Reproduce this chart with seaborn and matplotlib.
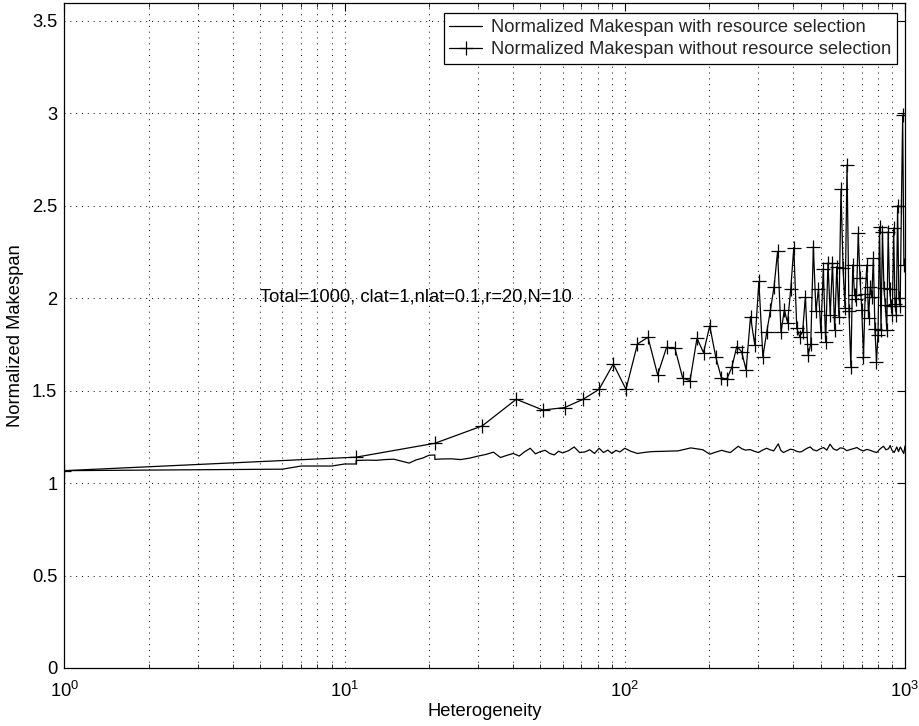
import matplotlib
matplotlib.use("Agg")
import matplotlib.pyplot as plt
import seaborn as sns
import pandas as pd

# ---- data ----
x_without = list(range(1, 1000, 10))
y_without = [1.067, 1.14, 1.215, 1.309, 1.453, 1.395, 1.408, 1.453, 1.507, 1.644,
             1.507, 1.752, 1.788, 1.585, 1.734, 1.729, 1.567, 1.554, 1.783, 1.705,
             1.85, 1.684, 1.57, 1.56, 1.626, 1.738, 1.711, 1.612, 1.90, 1.747,
             2.09, 1.684, 1.815, 1.936, 2.062, 2.252, 1.816, 1.936, 1.868, 2.048,
             2.273, 1.837, 1.792, 1.816, 2.008, 1.693, 1.751, 2.278, 1.93, 2.048,
             1.816, 2.16, 1.76, 2.19, 1.91, 2.19, 1.83, 2.17, 1.90, 2.589,
             2.162, 1.945, 2.72, 1.93, 1.63, 2.18, 2.018, 1.994, 2.35, 2.107,
             1.936, 1.68, 2.023, 2.18, 1.89, 2.06, 2.007, 2.216, 1.834, 1.657,
             1.80, 2.386, 1.826, 2.36, 2.052, 1.962, 1.83, 2.36, 2.05, 1.96,
             1.91, 2.38, 1.97, 1.91, 2.50, 2.0, 1.96, 2.5, 2.99, 2.18]

x_with = [1, 6, 7, 9, 10, 11, 11, 12, 13, 14, 15, 16, 17, 18, 19, 20, 21, 21, 22, 24,
          26, 28, 30, 32, 34, 36, 38, 40, 42, 44, 46, 48, 50, 52, 54, 56, 58, 60, 63, 66,
          69, 72, 75, 78, 81, 84, 87, 90, 93, 96, 100, 105, 111, 118, 125, 140, 155, 172, 190, 201,
          212, 222, 230, 238, 246, 254, 262, 270, 280, 290, 300, 310, 321, 330, 340, 353, 360, 368, 380, 390,
          400, 410, 420, 428, 440, 450, 459, 470, 484, 498, 512, 526, 540, 555, 571, 587, 603, 620, 637, 655,
          673, 692, 711, 731, 751, 772, 793, 815, 838, 855, 873, 885, 898, 915, 935, 948, 962, 980, 990, 1000]
y_with = [1.067, 1.075, 1.092, 1.092, 1.103, 1.103, 1.122, 1.124, 1.123, 1.127, 1.129, 1.118, 1.108, 1.125, 1.135, 1.150, 1.152, 1.128, 1.130, 1.131,
          1.127, 1.135, 1.146, 1.155, 1.167, 1.138, 1.150, 1.160, 1.146, 1.170, 1.188, 1.158, 1.170, 1.177, 1.160, 1.152, 1.172, 1.163, 1.175, 1.195,
          1.165, 1.168, 1.180, 1.160, 1.188, 1.165, 1.178, 1.160, 1.177, 1.168, 1.188, 1.172, 1.160, 1.166, 1.170, 1.172, 1.174, 1.190, 1.180, 1.156,
          1.168, 1.177, 1.170, 1.165, 1.182, 1.199, 1.185, 1.178, 1.181, 1.172, 1.165, 1.178, 1.188, 1.180, 1.174, 1.212, 1.178, 1.165, 1.175, 1.183,
          1.180, 1.172, 1.168, 1.170, 1.182, 1.190, 1.195, 1.180, 1.174, 1.185, 1.192, 1.178, 1.210, 1.185, 1.177, 1.190, 1.188, 1.175, 1.181, 1.186,
          1.192, 1.180, 1.174, 1.182, 1.177, 1.170, 1.165, 1.185, 1.199, 1.180, 1.185, 1.203, 1.178, 1.165, 1.195, 1.170, 1.195, 1.172, 1.160, 1.200]

label_with = "Normalized Makespan with resource selection"
label_without = "Normalized Makespan without resource selection"
annotation = "Total=1000, clat=1,nlat=0.1,r=20,N=10"
x_label = "Heterogeneity"
y_label = "Normalized Makespan"
y_ticks = [0, 0.5, 1, 1.5, 2, 2.5, 3, 3.5]
y_tick_labels = ["0", "0.5", "1", "1.5", "2", "2.5", "3", "3.5"]

# ---- style ----
sns.set_theme(style="white")
FONT = "Liberation Sans"
plt.rcParams["font.family"] = [FONT, "DejaVu Sans"]
plt.rcParams["mathtext.fontset"] = "custom"
plt.rcParams["mathtext.rm"] = FONT
plt.rcParams["mathtext.it"] = FONT
plt.rcParams["mathtext.default"] = "regular"
FS = 13.2

fig = plt.figure(figsize=(9.2, 7.26), dpi=100)
ax = fig.add_axes([0.0699, 0.0799, 0.9138, 0.9153])

df_with = pd.DataFrame({"x": x_with, "y": y_with})
df_without = pd.DataFrame({"x": x_without, "y": y_without})

sns.lineplot(data=df_with, x="x", y="y", sort=False, estimator=None, ax=ax,
             color="black", linewidth=0.9, label=label_with)
sns.lineplot(data=df_without, x="x", y="y", sort=False, estimator=None, ax=ax,
             color="black", linewidth=0.9, marker="+", markersize=10,
             markeredgewidth=0.9, markeredgecolor="black", label=label_without)

ax.set_xscale("log")
ax.set_xlim(1, 1000)
ax.set_ylim(0, 3.593)
ax.set_yticks(y_ticks)
ax.set_yticklabels(y_tick_labels)

grid_ls = (0, (1, 5))
ax.grid(True, which="major", axis="both", color="black", linestyle=grid_ls, linewidth=0.7)
ax.grid(True, which="minor", axis="x", color="black", linestyle=grid_ls, linewidth=0.7)

for s in ax.spines.values():
    s.set_visible(True)
    s.set_color("black")
    s.set_linewidth(0.9)

ax.tick_params(axis="both", which="major", direction="in", length=6, width=0.8,
               top=True, right=True, labelsize=FS, colors="black", pad=5)
ax.tick_params(axis="x", which="major", pad=9)
ax.tick_params(axis="x", which="minor", direction="in", length=3, width=0.7,
               top=True, bottom=True)
ax.tick_params(axis="y", which="minor", left=False, right=False)

ax.set_xlabel(x_label, fontsize=FS, color="black", labelpad=2)
ax.set_ylabel(y_label, fontsize=FS, color="black", labelpad=6)

ax.text(5, 2.005, annotation, fontsize=FS, ha="left", va="center", color="black")

leg = ax.legend(loc="upper right", bbox_to_anchor=(0.9905, 0.985), fontsize=FS,
                frameon=True, fancybox=False, edgecolor="black", framealpha=1,
                borderaxespad=0, borderpad=0.3, labelspacing=0.3,
                handlelength=1.8, handletextpad=0.5)
leg.get_frame().set_linewidth(0.9)

fig.savefig("out.png", dpi=100)
